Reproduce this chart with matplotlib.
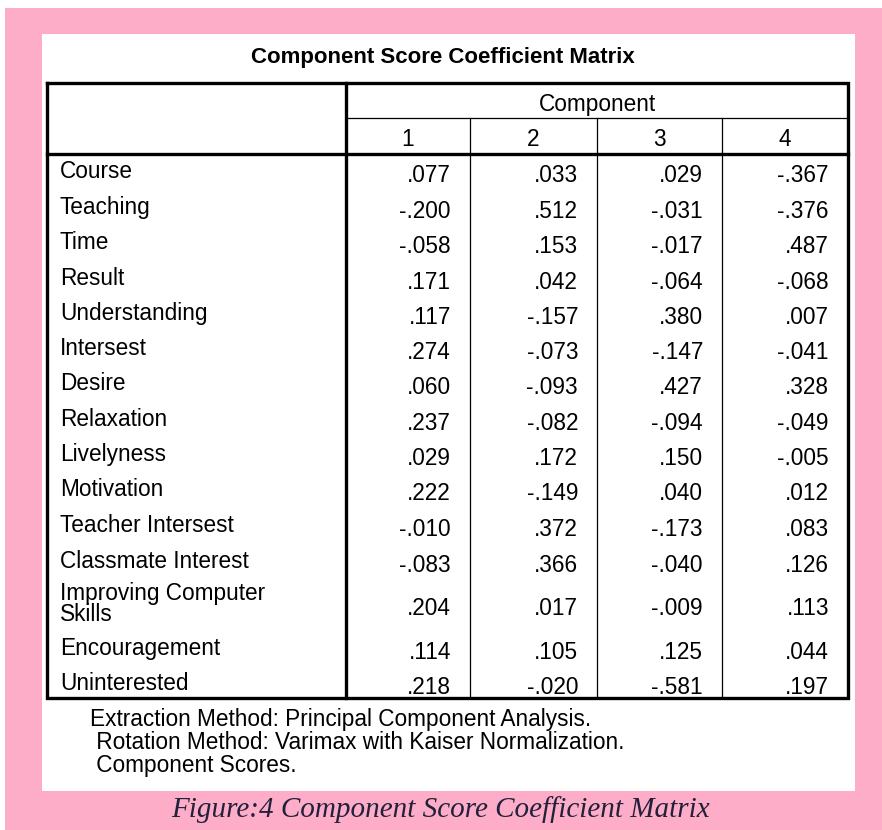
import matplotlib.pyplot as plt
from matplotlib.patches import Rectangle

# table content
title = "Component Score Coefficient Matrix"
header = "Component"
components = ["1", "2", "3", "4"]
variables = [
    "Course", "Teaching", "Time", "Result", "Understanding", "Intersest",
    "Desire", "Relaxation", "Livelyness", "Motivation", "Teacher Intersest",
    "Classmate Interest", "Improving Computer\nSkills", "Encouragement",
    "Uninterested",
]
comp1 = [".077", "-.200", "-.058", ".171", ".117", ".274", ".060", ".237",
         ".029", ".222", "-.010", "-.083", ".204", ".114", ".218"]
comp2 = [".033", ".512", ".153", ".042", "-.157", "-.073", "-.093", "-.082",
         ".172", "-.149", ".372", ".366", ".017", ".105", "-.020"]
comp3 = [".029", "-.031", "-.017", "-.064", ".380", "-.147", ".427", "-.094",
         ".150", ".040", "-.173", "-.040", "-.009", ".125", "-.581"]
comp4 = ["-.367", "-.376", ".487", "-.068", ".007", "-.041", ".328", "-.049",
         "-.005", ".012", ".083", ".126", ".113", ".044", ".197"]
notes = [
    "Extraction Method: Principal Component Analysis.",
    " Rotation Method: Varimax with Kaiser Normalization.",
    " Component Scores.",
]
caption = "Figure:4 Component Score Coefficient Matrix"

# row centres (pixels from top), row 13 is a two-line row
row_y = [173, 209, 244, 280, 315, 350, 385, 421, 456, 491, 527, 563, 606, 650, 685]

W, H = 882, 830
fig = plt.figure(figsize=(W / 100, H / 100), dpi=100)
ax = fig.add_axes([0, 0, 1, 1])
ax.set_xlim(0, W)
ax.set_ylim(H, 0)
ax.axis("off")

font = "Liberation Sans"
fs = 16.3

# background
ax.add_patch(Rectangle((5, 8), W - 5, H - 8, color="#fdadc8", lw=0))
ax.add_patch(Rectangle((42, 34), 813, 757, color="white", lw=0))

ax.text(443, 57, title, ha="center", va="center", fontsize=16,
        fontweight="bold", family=font)

left, right, top, bottom = 47, 848, 83, 698
xcol = [346, 470, 597, 722]
ax.plot([left, right, right, left, left], [top, top, bottom, bottom, top],
        color="black", lw=2.4, solid_joinstyle="miter")
ax.plot([xcol[0], xcol[0]], [top, bottom], color="black", lw=2.4)
ax.plot([left, right], [154, 154], color="black", lw=2.4)
ax.plot([xcol[0], right], [118, 118], color="black", lw=0.9)
for x in xcol[1:]:
    ax.plot([x, x], [118, bottom], color="black", lw=0.9)

ax.text((xcol[0] + right) / 2, 104, header, ha="center", va="center",
        fontsize=fs, family=font)
edges = xcol + [right]
for i, c in enumerate(components):
    ax.text((edges[i] + edges[i + 1]) / 2, 139, c, ha="center", va="center",
            fontsize=fs, family=font)

cols = [comp1, comp2, comp3, comp4]
for r, name in enumerate(variables):
    y = row_y[r]
    ax.text(60, y - 2, name, ha="left", va="center", fontsize=fs,
            family=font, linespacing=0.85)
    for j, col in enumerate(cols):
        ax.text(edges[j + 1] - 19, y + 2, col[r], ha="right", va="center",
                fontsize=fs, family=font)

for k, line in enumerate(notes):
    ax.text(90, 719 + 23 * k, line, ha="left", va="center", fontsize=fs,
            family=font)

ax.text(440, 810, caption, ha="center", va="center", fontsize=21,
        style="italic", family="Liberation Serif", color="#22203a")

fig.savefig("out.png", dpi=100)
